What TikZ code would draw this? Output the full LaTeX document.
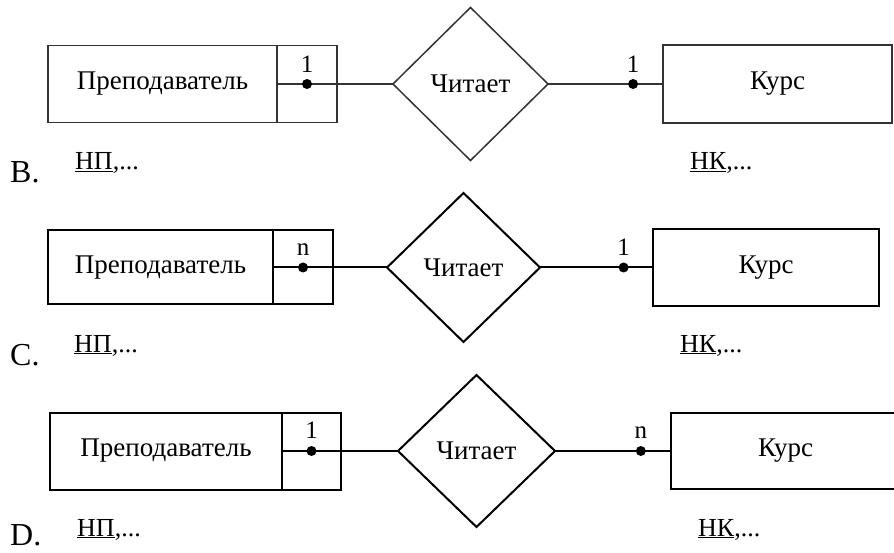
\documentclass[tikz,border=0pt]{standalone}
\usepackage{fontspec}
\setmainfont{Liberation Serif}
\usetikzlibrary{shapes.geometric,positioning}

\tikzset{
    entity/.style={draw, rectangle, inner sep=0pt, outer sep=0pt, font=\fontsize{27}{30}\selectfont},
    keycell/.style={draw, rectangle, inner sep=0pt, outer sep=0pt},
    relation/.style={draw, diamond, inner sep=0pt, outer sep=0pt, font=\fontsize{27}{30}\selectfont},
    dot/.style={circle, fill=black, draw=none, inner sep=0pt, minimum size=10pt},
    card/.style={inner sep=0pt, font=\fontsize{25}{28}\selectfont},
    attr/.style={anchor=base west, inner sep=0pt, font=\fontsize{26}{30}\selectfont},
    variant/.style={anchor=base west, inner sep=0pt, font=\fontsize{32}{36}\selectfont}
}

\begin{document}
\begin{tikzpicture}[x=1pt, y=-1pt]
    \useasboundingbox (0,0) rectangle (894,553);

    % Variant B (1 : 1)
    \begin{scope}[line width=1.5pt, draw=black!80]
        \node[entity, minimum width=229pt, minimum height=77pt] (prepB) at (162.5,84) {Преподаватель};
        \node[keycell, minimum width=60pt, minimum height=77pt, right=0pt of prepB] (keyB) {};
        \node[relation, minimum width=155pt, minimum height=153pt] (relB) at (470.5,84) {Читает};
        \node[entity, minimum width=229pt, minimum height=78pt] (kursB) at (777.5,84) {Курс};
        \draw (prepB.east) -- (relB.west);
        \draw (relB.east) -- node[dot, pos=0.74] (dkB) {} (kursB.west);
        \node[dot] (dpB) at (keyB.center) {};
    \end{scope}
    \node[card, above=6pt of dpB] (npB) {1};
    \node[card, above=6pt of dkB] (nkB) {1};
    \node[attr] (apB) at (75,170) {\underline{НП},...};
    \node[attr] (akB) at (690,170) {\underline{НК},...};
    \node[variant] (vB) at (10,183) {B.};

    % Variant C (n : 1)
    \begin{scope}[line width=2pt]
        \node[entity, minimum width=225pt, minimum height=74pt] (prepC) at (160.5,267.5) {Преподаватель};
        \node[keycell, minimum width=60pt, minimum height=74pt, right=0pt of prepC] (keyC) {};
        \node[relation, minimum width=153pt, minimum height=149pt] (relC) at (463.5,267.5) {Читает};
        \node[entity, minimum width=226pt, minimum height=77pt] (kursC) at (766,267.5) {Курс};
        \draw (prepC.east) -- (relC.west);
        \draw (relC.east) -- node[dot, pos=0.74] (dkC) {} (kursC.west);
        \node[dot] (dpC) at (keyC.center) {};
    \end{scope}
    \node[card, above=6pt of dpC] (npC) {n};
    \node[card, above=6pt of dkC] (nkC) {1};
    \node[attr] (apC) at (74,352) {\underline{НП},...};
    \node[attr] (akC) at (680,352) {\underline{НК},...};
    \node[variant] (vC) at (10,365) {C.};

    % Variant D (1 : n)
    \begin{scope}[line width=2pt]
        \node[entity, minimum width=232pt, minimum height=77pt] (prepD) at (166,451) {Преподаватель};
        \node[keycell, minimum width=59pt, minimum height=77pt, right=0pt of prepD] (keyD) {};
        \node[relation, minimum width=157pt, minimum height=152pt] (relD) at (476.5,451) {Читает};
        \node[entity, minimum width=229pt, minimum height=76pt] (kursD) at (785.5,451) {Курс};
        \draw (prepD.east) -- (relD.west);
        \draw (relD.east) -- node[dot, pos=0.74] (dkD) {} (kursD.west);
        \node[dot] (dpD) at (keyD.center) {};
    \end{scope}
    \node[card, above=6pt of dpD] (npD) {1};
    \node[card, above=6pt of dkD] (nkD) {n};
    \node[attr] (apD) at (77,536) {\underline{НП},...};
    \node[attr] (akD) at (698,536) {\underline{НК},...};
    \node[variant] (vD) at (10,545) {D.};
\end{tikzpicture}
\end{document}
